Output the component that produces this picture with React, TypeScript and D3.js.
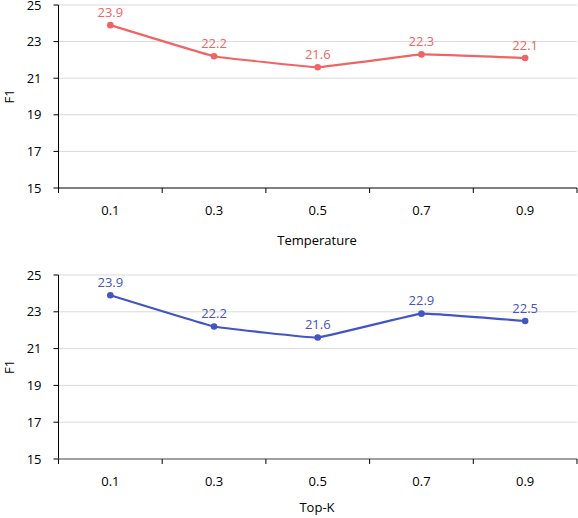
import React from "react";
import * as d3 from "d3";

const categories = ["0.1", "0.3", "0.5", "0.7", "0.9"];
const temperatureF1 = [23.9, 22.2, 21.6, 22.3, 22.1];
const topKF1 = [23.9, 22.2, 21.6, 22.9, 22.5];
const yTicks = [15, 17, 19, 21, 23, 25];

type panel = {
    values: number[],
    color: string,
    xTitle: string,
    top: number,
    bottom: number,
    titleGap: number,
    axisColor: string,
    axisWidth: number
}

const panels: panel[] = [
    { values: temperatureF1, color: "#f26464", xTitle: "Temperature", top: 5, bottom: 188, titleGap: 52, axisColor: "#000", axisWidth: 1 },
    { values: topKF1, color: "#4354c4", xTitle: "Top-K", top: 275, bottom: 459, titleGap: 48, axisColor: "#808080", axisWidth: 1.6 }
]

const font = "'Open Sans', 'Noto Sans', sans-serif"
const left = 58.5
const right = 577

export default class App extends React.Component {
    svg: React.RefObject<SVGSVGElement> = React.createRef<SVGSVGElement>()
    componentDidMount() {
        //@ts-ignore
        const svg = d3.select(this.svg.current)
        svg.selectAll("*").remove()
        const x = d3.scaleBand().domain(categories).range([left, right])
        panels.forEach(p => {
            const g = svg.append("g")
            const y = d3.scaleLinear().domain([15, 25]).range([p.bottom, p.top])
            // gridlines
            g.selectAll(".grid")
                .data(yTicks.filter(t => t > 15))
                .join("line")
                .attr("x1", left).attr("x2", right)
                .attr("y1", d => y(d)).attr("y2", d => y(d))
                .attr("stroke", "#d9d9d9").attr("stroke-width", 1)
            // y ticks
            g.selectAll(".ytick")
                .data(yTicks)
                .join("line")
                .attr("x1", left - 5).attr("x2", left)
                .attr("y1", d => y(d)).attr("y2", d => y(d))
                .attr("stroke", "#000")
            g.selectAll(".ylab")
                .data(yTicks)
                .join("text")
                .attr("x", left - 17).attr("y", d => y(d))
                .attr("dy", "0.35em")
                .attr("text-anchor", "end")
                .attr("font-family", font).attr("font-size", 13)
                .attr("fill", "#000")
                .text(d => d)
            // y axis line
            g.append("line")
                .attr("x1", left).attr("x2", left)
                .attr("y1", y(25)).attr("y2", p.bottom)
                .attr("stroke", "#000")
            // x axis
            g.append("line")
                .attr("x1", left).attr("x2", right)
                .attr("y1", p.bottom).attr("y2", p.bottom)
                .attr("stroke", p.axisColor).attr("stroke-width", p.axisWidth)
            const bounds = categories.map(c => x(c)!).concat([right])
            g.selectAll(".xtick")
                .data(bounds)
                .join("line")
                .attr("x1", d => d).attr("x2", d => d)
                .attr("y1", p.bottom).attr("y2", p.bottom + 5)
                .attr("stroke", "#000")
            g.selectAll(".xlab")
                .data(categories)
                .join("text")
                .attr("x", d => x(d)! + x.bandwidth() / 2)
                .attr("y", p.bottom + 22)
                .attr("dy", "0.35em")
                .attr("text-anchor", "middle")
                .attr("font-family", font).attr("font-size", 13)
                .text(d => d)
            g.append("text")
                .attr("x", 317).attr("y", p.bottom + p.titleGap)
                .attr("dy", "0.35em")
                .attr("text-anchor", "middle")
                .attr("font-family", font).attr("font-size", 13)
                .text(p.xTitle)
            g.append("text")
                .attr("transform", `translate(9,${(p.top + p.bottom) / 2}) rotate(-90)`)
                .attr("dy", "0.35em")
                .attr("text-anchor", "middle")
                .attr("font-family", font).attr("font-size", 13)
                .text("F1")
            // series
            const cx = (i: number) => x(categories[i])! + x.bandwidth() / 2
            const line = d3.line<number>()
                .x((d, i) => cx(i))
                .y(d => y(d))
                .curve(d3.curveCardinal.tension(0.8))
            g.append("path")
                .attr("d", line(p.values))
                .attr("fill", "none")
                .attr("stroke", p.color)
                .attr("stroke-width", 2.2)
            g.selectAll(".pt")
                .data(p.values)
                .join("circle")
                .attr("cx", (d, i) => cx(i)).attr("cy", d => y(d))
                .attr("r", 3.3)
                .attr("fill", p.color)
            g.selectAll(".val")
                .data(p.values)
                .join("text")
                .attr("x", (d, i) => cx(i)).attr("y", d => y(d) - 13)
                .attr("dy", "0.35em")
                .attr("text-anchor", "middle")
                .attr("font-family", font).attr("font-size", 13)
                .attr("fill", p.color)
                .text(d => d.toFixed(1))
        })
    }
    render(): React.ReactNode {
        return (
            <svg ref={this.svg} width={578} height={518}
                style={{ position: "absolute", left: 0, top: 0, background: "#fff" }}></svg>
        )
    }
}
